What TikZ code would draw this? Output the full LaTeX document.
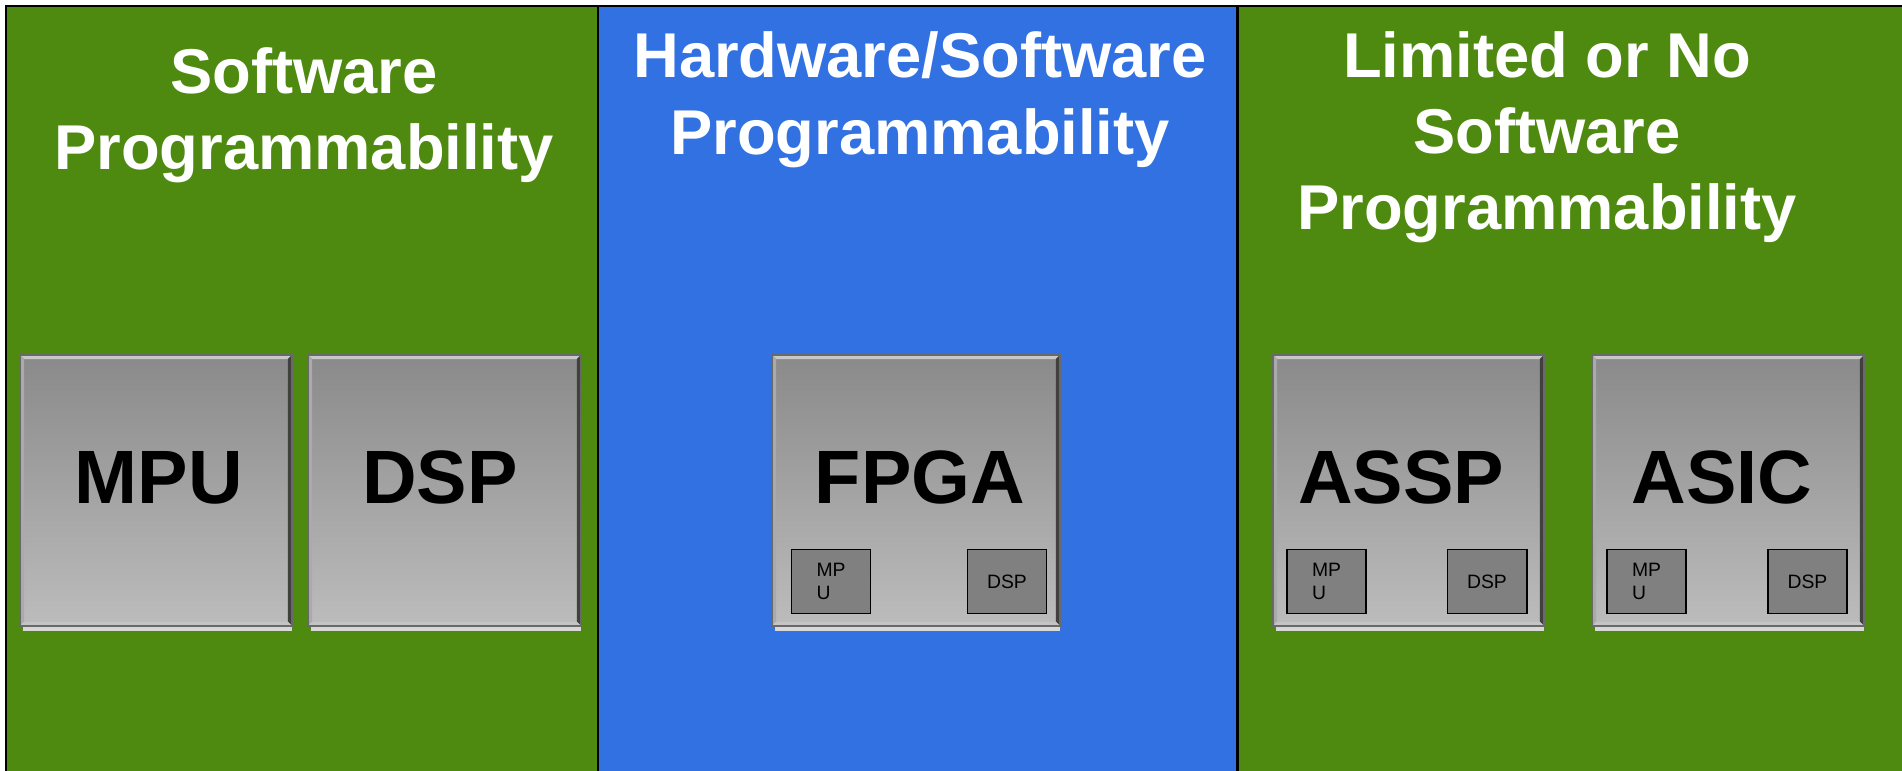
\documentclass[tikz,border=0pt]{standalone}
\usepackage{fontspec}
\setmainfont{Liberation Sans}
\usetikzlibrary{calc}
\definecolor{panelgreen}{RGB}{79,138,16}
\definecolor{panelblue}{RGB}{50,113,226}
\definecolor{chiptop}{RGB}{138,138,138}
\definecolor{chipbot}{RGB}{188,188,188}
\definecolor{subgray}{RGB}{128,128,128}
\definecolor{bevlight}{RGB}{200,200,200}
\definecolor{bevleft}{RGB}{170,170,170}
\definecolor{bevdark}{RGB}{64,64,64}
\definecolor{bevbot}{RGB}{196,196,196}
\definecolor{edgegray}{RGB}{105,105,105}
\definecolor{shadowgray}{RGB}{216,216,216}
\newcommand\mkchip[5]{%
  \node[chip, minimum width=#4cm, minimum height=#5cm] (#1) at (#2,#3) {};
  \fill[shadowgray] ($(#1.south west)+(3,1)$) rectangle ($(#1.south east)+(0,5)$);
  \fill[bevlight] (#1.north west) -- (#1.north east) -- ($(#1.north east)+(-4,4)$) -- ($(#1.north west)+(4,4)$) -- cycle;
  \fill[bevleft] (#1.north west) -- ($(#1.north west)+(4,4)$) -- ($(#1.south west)+(4,-4)$) -- (#1.south west) -- cycle;
  \fill[bevdark] (#1.north east) -- ($(#1.north east)+(-4,4)$) -- ($(#1.south east)+(-4,-4)$) -- (#1.south east) -- cycle;
  \fill[bevbot] (#1.south west) -- ($(#1.south west)+(4,-4)$) -- ($(#1.south east)+(-4,-4)$) -- (#1.south east) -- cycle;
  \draw[edgegray, line width=0.6pt] (#1.north west) rectangle (#1.south east);
}
\begin{document}
\begin{tikzpicture}[x=0.01cm, y=-0.01cm,
  chip/.style={rectangle, inner sep=0pt, top color=chiptop, bottom color=chipbot, draw=none},
  subbox/.style={rectangle, inner sep=0pt, fill=subgray, draw=black, line width=0.55pt,
    minimum width=0.79cm, minimum height=0.64cm, align=left,
    font=\fontsize{5.5}{6.3}\selectfont},
  title/.style={text=white, anchor=base, inner sep=0pt, font=\bfseries\fontsize{18}{21.6}\selectfont},
  biglabel/.style={anchor=base, inner sep=0pt, font=\bfseries\fontsize{21.5}{24}\selectfont},
  border/.style={black, line width=0.6pt}]
\useasboundingbox (0,0) rectangle (1902,771);
\fill[white] (0,0) rectangle (1902,771);
% panels
\fill[panelgreen] (6,6) rectangle (598,771);
\fill[panelblue] (598,6) rectangle (1237.5,771);
\fill[panelgreen] (1237.5,6) rectangle (1902,771);
\draw[border] (6,771) -- (6,6) -- (1902,6);
\draw[border] (598,6) -- (598,771);
\draw[border] (1237.5,6) -- (1237.5,771);
% titles
\node[title] (t1a) at (304,94) {Software};
\node[title] (t1b) at (304,170) {Programmability};
\node[title] (t2a) at (920,78) {Hardware/Software};
\node[title] (t2b) at (920,155) {Programmability};
\node[title] (t3a) at (1547,78) {Limited or No};
\node[title] (t3b) at (1547,154) {Software};
\node[title] (t3c) at (1547,230) {Programmability};
% chips
\mkchip{mpu}{156}{490.5}{2.70}{2.69}
\mkchip{dsp}{444.5}{490.5}{2.71}{2.69}
\mkchip{fpga}{916}{490.5}{2.86}{2.69}
\mkchip{assp}{1408.5}{490.5}{2.69}{2.69}
\mkchip{asic}{1728}{490.5}{2.70}{2.69}
\node[biglabel] (mpul) at (158.6,504) {MPU};
\node[biglabel] (dspl) at (440,504) {DSP};
\node[biglabel] (fpgal) at (920,504) {FPGA};
\node[biglabel] (asspl) at (1401,504) {ASSP};
\node[biglabel] (asicl) at (1722,504) {ASIC};
% sub boxes
\node[subbox] (fmpu) at (831,581.5) {MP\\U};
\node[subbox] (fdsp) at (1007,581.5) {DSP};
\node[subbox] (ampu) at (1326.5,581.5) {MP\\U};
\node[subbox] (adsp) at (1487,581.5) {DSP};
\node[subbox] (cmpu) at (1646.5,581.5) {MP\\U};
\node[subbox] (cdsp) at (1807.5,581.5) {DSP};
\end{tikzpicture}
\end{document}
